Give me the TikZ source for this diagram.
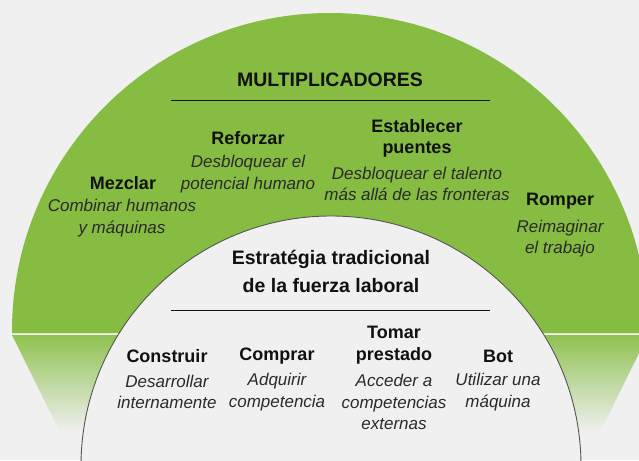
\documentclass[tikz,border=0pt]{standalone}
\usepackage{fontspec}
\setmainfont{Liberation Sans}
\definecolor{bg}{HTML}{F0F0F0}
\definecolor{leaf}{HTML}{86BC42}
\definecolor{leaflight}{HTML}{D9EAC4}
\definecolor{rim}{HTML}{555555}
\definecolor{ink}{HTML}{111111}
\definecolor{inkdesc}{HTML}{2A2A2A}
\tikzset{
  titletext/.style={inner sep=0pt, align=center, text=ink, font=\fontsize{19.5}{27}\selectfont\bfseries},
  headtext/.style={inner sep=0pt, align=center, text=ink, font=\fontsize{18}{21.5}\selectfont\bfseries},
  desctext/.style={inner sep=0pt, align=center, text=inkdesc, font=\fontsize{17}{21.5}\selectfont\itshape},
  rule/.style={draw=ink, line width=0.9pt}
}
\begin{document}
\begin{tikzpicture}[x=1pt,y=-1pt]
\useasboundingbox (0,0) rectangle (639,460);
\fill[bg] (0,0) rectangle (639,460);
\begin{scope}
  \clip (0,0) rectangle (639,460);
  % outer green half disc
  \begin{scope}
    \clip (0,0) rectangle (639,333);
    \fill[leaf] (330,331) circle[radius=318];
  \end{scope}
  % fading reflection below
  \shade[top color=leaf!92!white, middle color=leaf!38!bg, bottom color=bg] (12,335) -- (648,335) -- (600,432) -- (60,432) -- cycle;
  \draw[leaflight, line width=1.3pt] (12,333.8) -- (648,333.8);
  % inner disc
  \fill[bg] (331,466) circle[radius=250];
  \draw[rim, line width=0.9pt] (331,466) circle[radius=250];
\end{scope}

% Multiplicadores
\node[titletext] (mult) at (330,80) {MULTIPLICADORES};
\coordinate (mulL) at (171,100);
\coordinate (mulR) at (490,100);
\draw[rule] (mulL) -- (mulR);

\node[headtext] (mez) at (123,183) {Mezclar};
\node[desctext] (mezd) at (122,218) {Combinar humanos\\y máquinas};

\node[headtext] (ref) at (248,138) {Reforzar};
\node[desctext] (refd) at (248,174) {Desbloquear el\\potencial humano};

\node[headtext] (est) at (417,138.5) {Establecer\\puentes};
\node[desctext] (estd) at (417,184) {Desbloquear el talento\\más allá de las fronteras};

\node[headtext] (rom) at (560,201) {Romper};
\node[desctext] (romd) at (560,238.5) {Reimaginar\\el trabajo};

% Traditional strategy
\node[titletext, font=\fontsize{19.5}{28}\selectfont\bfseries] (trad) at (331,271) {Estratégia tradicional\\de la fuerza laboral};
\coordinate (tradL) at (171,310);
\coordinate (tradR) at (490,310);
\draw[rule] (tradL) -- (tradR);

\node[headtext] (con) at (167,356) {Construir};
\node[desctext] (cond) at (167,392) {Desarrollar\\internamente};

\node[headtext] (com) at (277,356) {Comprar};
\node[desctext] (comd) at (277,392) {Adquirir\\competencia};

\node[headtext] (tom) at (394,345) {Tomar\\prestado};
\node[desctext] (tomd) at (394,402) {Acceder a\\competencias\\externas};

\node[headtext] (bot) at (498,356) {Bot};
\node[desctext] (botd) at (498,392) {Utilizar una\\máquina};
\end{tikzpicture}
\end{document}
